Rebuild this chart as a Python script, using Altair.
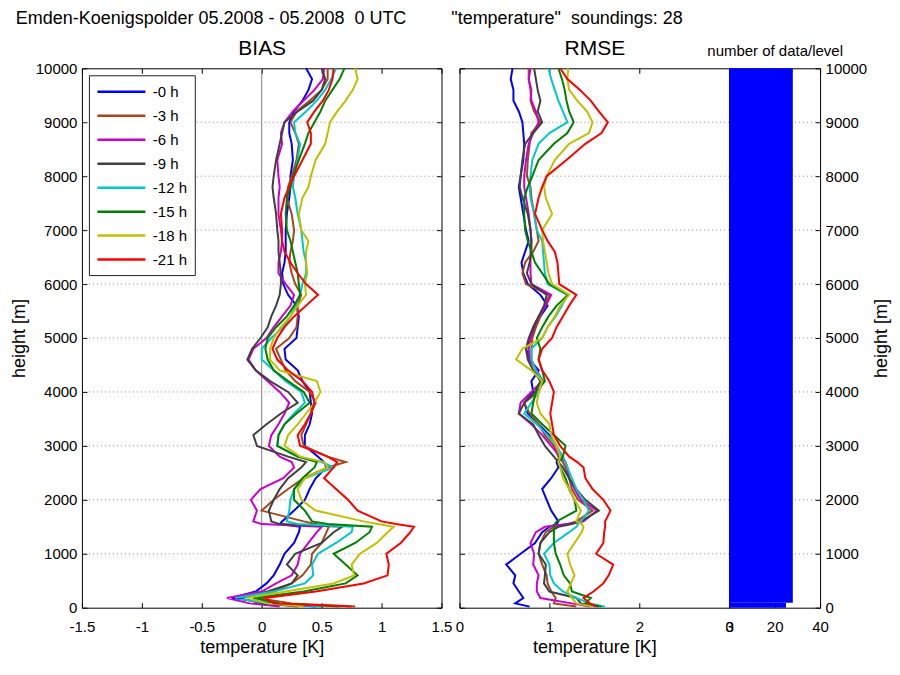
import altair as alt
import pandas as pd

FONT = "Liberation Sans"

HEIGHTS = [20, 80, 180, 300, 450, 600, 800, 1000, 1200, 1400,
           1500, 1550, 1600, 1800, 2000, 2200, 2400, 2600, 2700, 2800,
           3000, 3200, 3400, 3600, 3800, 4000, 4200, 4400, 4600, 4800,
           5000, 5200, 5400, 5600, 5800, 6000, 6200, 6400, 6600, 6800,
           7000, 7300, 7600, 7800, 8000, 8300, 8600, 8800, 9000, 9200,
           9400, 9600, 9800, 10000]

SERIES = ["-0 h", "-3 h", "-6 h", "-9 h", "-12 h", "-15 h", "-18 h", "-21 h"]
COLORS = ["#0000ff", "#a5461e", "#cc00cc", "#404040", "#00c8c8", "#008000", "#c0c000", "#ff0000"]

# ---- BIAS [K] per forecast lead ----
BIAS_0 = [0.45, 0.10, -0.25, -0.05, 0.04, 0.10, 0.15, 0.19, 0.27, 0.31,
          0.32, 0.15, 0.17, 0.27, 0.36, 0.40, 0.45, 0.54, 0.52, 0.47,
          0.36, 0.36, 0.40, 0.42, 0.41, 0.40, 0.34, 0.30, 0.20, 0.19,
          0.29, 0.30, 0.31, 0.29, 0.22, 0.18, 0.17, 0.19, 0.20, 0.20,
          0.20, 0.21, 0.23, 0.24, 0.24, 0.26, 0.25, 0.23, 0.23, 0.27,
          0.34, 0.39, 0.42, 0.37]
BIAS_3 = [0.78, 0.25, -0.04, 0.10, 0.25, 0.34, 0.41, 0.42, 0.50, 0.54,
          0.56, 0.45, 0.35, 0.00, 0.10, 0.22, 0.35, 0.55, 0.70, 0.55,
          0.35, 0.33, 0.37, 0.41, 0.45, 0.40, 0.28, 0.20, 0.16, 0.12,
          0.23, 0.29, 0.30, 0.30, 0.33, 0.28, 0.25, 0.23, 0.24, 0.26,
          0.27, 0.25, 0.21, 0.22, 0.25, 0.29, 0.31, 0.28, 0.24, 0.29,
          0.40, 0.50, 0.55, 0.55]
BIAS_6 = [0.15, -0.10, -0.29, 0.00, 0.12, 0.25, 0.30, 0.32, 0.39, 0.46,
          0.50, 0.00, -0.07, -0.04, -0.09, -0.01, 0.18, 0.27, 0.25, 0.15,
          0.06, 0.08, 0.14, 0.19, 0.23, 0.15, 0.05, -0.05, -0.11, -0.07,
          0.04, 0.10, 0.17, 0.24, 0.27, 0.20, 0.14, 0.14, 0.16, 0.17,
          0.16, 0.14, 0.14, 0.15, 0.14, 0.13, 0.17, 0.16, 0.19, 0.26,
          0.35, 0.44, 0.51, 0.52]
BIAS_9 = [0.30, 0.00, -0.18, 0.05, 0.25, 0.30, 0.21, 0.28, 0.50, 0.60,
          0.67, 0.15, 0.08, 0.06, 0.10, 0.15, 0.22, 0.33, 0.37, 0.22,
          -0.04, -0.07, 0.04, 0.16, 0.30, 0.22, 0.07, -0.05, -0.12, -0.08,
          -0.01, 0.05, 0.08, 0.12, 0.15, 0.16, 0.16, 0.15, 0.14, 0.14,
          0.13, 0.12, 0.10, 0.09, 0.10, 0.12, 0.15, 0.17, 0.19, 0.30,
          0.43, 0.50, 0.53, 0.50]
BIAS_12 = [0.50, 0.05, -0.22, 0.10, 0.36, 0.43, 0.42, 0.47, 0.62, 0.75,
           0.76, 0.30, 0.21, 0.23, 0.24, 0.27, 0.36, 0.60, 0.50, 0.30,
           0.13, 0.14, 0.19, 0.27, 0.36, 0.33, 0.20, 0.10, 0.00, 0.00,
           0.08, 0.18, 0.24, 0.28, 0.32, 0.34, 0.37, 0.37, 0.35, 0.34,
           0.33, 0.30, 0.28, 0.26, 0.27, 0.30, 0.32, 0.28, 0.27, 0.37,
           0.46, 0.53, 0.58, 0.62]
BIAS_15 = [0.65, 0.15, -0.07, 0.35, 0.70, 0.80, 0.70, 0.60, 0.78, 0.90,
           0.92, 0.55, 0.42, 0.36, 0.27, 0.27, 0.34, 0.44, 0.46, 0.30,
           0.13, 0.14, 0.19, 0.29, 0.40, 0.35, 0.22, 0.10, 0.05, 0.03,
           0.05, 0.12, 0.21, 0.27, 0.32, 0.31, 0.30, 0.28, 0.26, 0.24,
           0.21, 0.20, 0.21, 0.24, 0.26, 0.31, 0.36, 0.39, 0.44, 0.49,
           0.53, 0.59, 0.65, 0.69]
BIAS_18 = [0.35, 0.05, -0.12, 0.20, 0.60, 0.77, 0.75, 0.82, 0.96, 1.05,
           1.10, 0.97, 0.85, 0.45, 0.33, 0.30, 0.36, 0.55, 0.52, 0.32,
           0.19, 0.22, 0.30, 0.37, 0.44, 0.49, 0.46, 0.15, 0.07, 0.07,
           0.10, 0.16, 0.24, 0.30, 0.37, 0.36, 0.38, 0.37, 0.37, 0.39,
           0.33, 0.31, 0.34, 0.39, 0.41, 0.45, 0.53, 0.55, 0.57, 0.63,
           0.70, 0.76, 0.80, 0.78]
BIAS_21 = [0.75, 0.10, 0.03, 0.45, 0.85, 1.05, 1.06, 1.04, 1.16, 1.24,
           1.27, 1.12, 1.00, 0.80, 0.72, 0.62, 0.52, 0.60, 0.63, 0.55,
           0.32, 0.30, 0.36, 0.41, 0.44, 0.42, 0.34, 0.22, 0.13, 0.09,
           0.13, 0.19, 0.27, 0.37, 0.47, 0.37, 0.30, 0.24, 0.19, 0.17,
           0.17, 0.16, 0.19, 0.23, 0.27, 0.34, 0.41, 0.41, 0.38, 0.44,
           0.51, 0.56, 0.59, 0.60]

# ---- RMSE [K] per forecast lead ----
RMSE_0 = [0.78, 0.62, 0.71, 0.66, 0.60, 0.62, 0.52, 0.68, 0.84, 0.92,
          1.00, 1.08, 1.10, 1.02, 0.97, 0.92, 1.02, 1.10, 1.08, 1.12,
          1.08, 1.00, 0.88, 0.76, 0.72, 0.82, 0.80, 0.88, 0.78, 0.74,
          0.79, 0.84, 0.90, 0.98, 0.90, 0.76, 0.71, 0.69, 0.73, 0.77,
          0.74, 0.71, 0.68, 0.66, 0.68, 0.71, 0.72, 0.71, 0.70, 0.66,
          0.60, 0.60, 0.57, 0.59]
RMSE_3 = [1.30, 1.05, 1.07, 1.02, 0.98, 0.97, 0.92, 0.88, 0.90, 0.96,
          1.05, 1.20, 1.30, 1.48, 1.32, 1.25, 1.22, 1.18, 1.15, 1.10,
          1.05, 0.95, 0.88, 0.78, 0.72, 0.88, 0.93, 0.85, 0.80, 0.80,
          0.81, 0.85, 0.90, 0.95, 1.00, 0.74, 0.70, 0.73, 0.82, 0.88,
          0.86, 0.83, 0.80, 0.79, 0.75, 0.76, 0.78, 0.80, 0.90, 0.83,
          0.79, 0.80, 0.77, 0.77]
RMSE_6 = [1.45, 1.25, 0.90, 0.86, 0.86, 0.88, 0.82, 0.83, 0.79, 0.85,
          0.95, 1.20, 1.38, 1.53, 1.35, 1.28, 1.22, 1.20, 1.18, 1.12,
          1.02, 0.92, 0.80, 0.66, 0.68, 0.80, 0.92, 0.86, 0.78, 0.77,
          0.79, 0.82, 0.88, 0.96, 1.02, 0.80, 0.79, 0.79, 0.79, 0.80,
          0.79, 0.77, 0.74, 0.72, 0.72, 0.74, 0.77, 0.82, 0.88, 0.85,
          0.80, 0.79, 0.77, 0.79]
RMSE_9 = [1.55, 1.35, 1.30, 1.00, 0.94, 0.95, 0.96, 0.88, 0.90, 1.00,
          1.10, 1.25, 1.35, 1.55, 1.40, 1.30, 1.22, 1.15, 1.10, 1.05,
          0.95, 0.88, 0.82, 0.66, 0.72, 0.84, 0.90, 0.82, 0.76, 0.74,
          0.77, 0.82, 0.88, 0.94, 0.97, 0.80, 0.75, 0.78, 0.80, 0.80,
          0.79, 0.76, 0.70, 0.67, 0.68, 0.70, 0.73, 0.82, 0.92, 0.87,
          0.90, 0.87, 0.85, 0.83]
RMSE_12 = [1.62, 1.45, 1.30, 1.15, 1.05, 1.01, 1.00, 0.94, 1.05, 1.22,
           1.30, 1.32, 1.35, 1.44, 1.38, 1.30, 1.25, 1.20, 1.18, 1.15,
           1.08, 0.98, 0.86, 0.72, 0.80, 0.88, 0.92, 0.85, 0.80, 0.80,
           0.92, 0.98, 1.07, 1.14, 1.20, 0.98, 0.95, 0.94, 0.93, 0.92,
           0.86, 0.83, 0.79, 0.78, 0.79, 0.81, 0.88, 1.00, 1.20, 1.15,
           1.10, 1.06, 1.02, 0.99]
RMSE_15 = [1.58, 1.40, 1.46, 1.25, 1.23, 1.16, 1.12, 1.07, 1.05, 1.05,
           1.05, 1.06, 1.08, 1.30, 1.28, 1.22, 1.18, 1.12, 1.10, 1.15,
           1.18, 1.05, 0.92, 0.80, 0.82, 0.85, 0.95, 0.92, 0.88, 0.90,
           0.86, 0.92, 0.99, 1.08, 1.21, 1.00, 0.92, 0.84, 0.80, 0.76,
           0.73, 0.72, 0.72, 0.76, 0.81, 0.88, 1.05, 1.20, 1.27, 1.22,
           1.19, 1.17, 1.14, 1.10]
RMSE_18 = [1.48, 1.30, 1.25, 1.20, 1.24, 1.28, 1.23, 1.20, 1.28, 1.36,
           1.38, 1.36, 1.30, 1.35, 1.28, 1.22, 1.15, 1.12, 1.10, 1.12,
           1.08, 1.02, 1.00, 0.90, 0.86, 0.88, 0.92, 0.80, 0.63, 0.70,
           0.92, 0.98, 1.06, 1.12, 1.22, 1.03, 0.99, 0.97, 0.95, 0.93,
           0.92, 1.03, 0.96, 0.94, 0.97, 1.06, 1.22, 1.44, 1.48, 1.42,
           1.31, 1.22, 1.20, 1.21]
RMSE_21 = [1.52, 1.45, 1.38, 1.49, 1.60, 1.66, 1.71, 1.52, 1.60, 1.61,
           1.62, 1.62, 1.62, 1.68, 1.60, 1.48, 1.40, 1.38, 1.31, 1.22,
           1.12, 1.05, 1.03, 1.01, 1.03, 1.05, 1.00, 0.92, 0.88, 0.92,
           1.03, 1.08, 1.15, 1.22, 1.30, 1.11, 1.10, 1.09, 1.06, 0.98,
           0.92, 0.84, 0.88, 0.92, 0.97, 1.19, 1.40, 1.58, 1.65, 1.55,
           1.46, 1.34, 1.20, 1.12]

BIAS = [BIAS_0, BIAS_3, BIAS_6, BIAS_9, BIAS_12, BIAS_15, BIAS_18, BIAS_21]
RMSE = [RMSE_0, RMSE_3, RMSE_6, RMSE_9, RMSE_12, RMSE_15, RMSE_18, RMSE_21]

# number of data per level
COUNT_LOW = [0, 90]
COUNT_HIGH = [90, 10000]
COUNTS = [25, 28]

GRID_HEIGHTS = [1000, 2000, 3000, 4000, 5000, 6000, 7000, 8000, 9000]
Y_TICKS = [0, 1000, 2000, 3000, 4000, 5000, 6000, 7000, 8000, 9000, 10000]
BIAS_TICKS = [-1.5, -1, -0.5, 0, 0.5, 1, 1.5]
RMSE_TICKS = [0, 1, 2, 3]
COUNT_TICKS = [0, 20, 40]

TITLE_LEFT = "Emden-Koenigspolder 05.2008 - 05.2008\u00a0\u00a00 UTC"
TITLE_RIGHT = "\"temperature\"\u00a0\u00a0soundings: 28"
TITLE = TITLE_LEFT + "\u00a0" * 9 + TITLE_RIGHT


def to_long(table):
    rows = []
    for name, vals in zip(SERIES, table):
        assert len(vals) == len(HEIGHTS), (name, len(vals))
        for h, v in zip(HEIGHTS, vals):
            rows.append({"series": name, "h": h, "v": v})
    return pd.DataFrame(rows)


bias_df = to_long(BIAS)
rmse_df = to_long(RMSE)
grid_df = pd.DataFrame({"h": GRID_HEIGHTS})
count_df = pd.DataFrame({"lo": COUNT_LOW, "hi": COUNT_HIGH, "n": COUNTS,
                         "zero": [0] * len(COUNTS)})

PH = 540
LABEL = "'' + datum.value"


def ax(orient, values, labels=True, title=None, pad=5, **kw):
    return alt.Axis(orient=orient, values=values, labels=labels, title=title,
                    offset=-5, tickSize=5, ticks=True, domain=False, grid=False,
                    labelExpr=LABEL, labelFlush=False, labelOverlap=False,
                    labelPadding=pad, minExtent=0, **kw)


def top_ax(values, title, size):
    # ticks pointing inwards along the top edge; the panel title sits on this axis
    return ax("top", values, labels=False, title=title, titleFontSize=size,
              titlePadding=9, titleBaseline="bottom")


ys = alt.Scale(domain=[0, 10000], nice=False, zero=False)
xb = alt.Scale(domain=[-1.5, 1.5], nice=False, zero=False)
xr = alt.Scale(domain=[0, 3], nice=False, zero=False)
xn = alt.Scale(domain=[0, 40], nice=False, zero=False)

color = alt.Scale(domain=SERIES, range=COLORS)


def grid_layer():
    return alt.Chart(grid_df).mark_rule(color="#8a8a8a", strokeDash=[1, 3], strokeWidth=1).encode(
        y=alt.Y("h:Q", scale=ys, axis=None))


# ---------------- BIAS ----------------
bias_zero = alt.Chart(pd.DataFrame({"v": [0]})).mark_rule(color="#808080", strokeWidth=1).encode(
    x=alt.X("v:Q", scale=xb, axis=None))
bias_lines = alt.Chart(bias_df).mark_line(strokeWidth=2).encode(
    x=alt.X("v:Q", scale=xb, axis=ax("bottom", BIAS_TICKS, title="temperature [K]", pad=12)),
    y=alt.Y("h:Q", scale=ys, axis=ax("left", Y_TICKS, title="height [m]", pad=5, titlePadding=7)),
    color=alt.Color("series:N", scale=color, legend=alt.Legend(
        title=None, orient="top-left", offset=7, strokeColor="#222222", fillColor="white",
        padding=7, symbolType="M-3,0H3", symbolSize=256, symbolStrokeWidth=2.5,
        symbolOffset=16, labelOffset=22,
        labelFontSize=15, labelFont=FONT, labelColor="black", rowPadding=6)),
    order=alt.Order("h:Q"),
)
bias_frame = alt.Chart(pd.DataFrame({"x": [BIAS_TICKS[3]], "h": [Y_TICKS[5]]})).mark_point(opacity=0).encode(
    x=alt.X("x:Q", scale=xb, axis=top_ax(BIAS_TICKS, "BIAS", 21)),
    y=alt.Y("h:Q", scale=ys, axis=ax("right", Y_TICKS, labels=False)))

bias = alt.layer(grid_layer(), bias_zero, bias_lines, bias_frame).resolve_axis(
    x="independent", y="independent").properties(width=360, height=PH)

# ---------------- RMSE ----------------
rmse_lines = alt.Chart(rmse_df).mark_line(strokeWidth=2).encode(
    x=alt.X("v:Q", scale=xr, axis=ax("bottom", RMSE_TICKS, title="temperature [K]", pad=12)),
    y=alt.Y("h:Q", scale=ys, axis=ax("left", Y_TICKS, labels=False)),
    color=alt.Color("series:N", scale=color, legend=None),
    order=alt.Order("h:Q"),
)
rmse_frame = alt.Chart(pd.DataFrame({"x": [RMSE_TICKS[1]], "h": [Y_TICKS[5]]})).mark_point(opacity=0).encode(
    x=alt.X("x:Q", scale=xr, axis=top_ax(RMSE_TICKS, "RMSE", 21)))

rmse = alt.layer(grid_layer(), rmse_lines, rmse_frame).resolve_axis(
    x="independent", y="independent").properties(width=270, height=PH)

# ---------------- number of data ----------------
count_bars = alt.Chart(count_df).mark_rect(color="#0000ff").encode(
    x=alt.X("zero:Q", scale=xn, axis=ax("bottom", COUNT_TICKS, title=None, pad=12)),
    x2="n:Q",
    y=alt.Y("lo:Q", scale=ys, axis=ax("right", Y_TICKS, title="height [m]", pad=5,
                                     titleAngle=270, titleBaseline="top", titlePadding=6)),
    y2="hi:Q",
)
count_frame = alt.Chart(pd.DataFrame({"x": [COUNT_TICKS[1]], "h": [Y_TICKS[5]]})).mark_point(opacity=0).encode(
    x=alt.X("x:Q", scale=xn, axis=top_ax(COUNT_TICKS, "number of data/level", 15)))

count = alt.layer(grid_layer(), count_bars, count_frame).resolve_axis(
    x="independent", y="independent").properties(width=91, height=PH)

inner = alt.hconcat(rmse, count, spacing=0, bounds="flush").resolve_scale(
    x="independent", color="independent")

chart = alt.hconcat(bias, inner, spacing=18, bounds="flush").resolve_scale(
    x="independent", color="independent").properties(
    title=alt.TitleParams(TITLE, anchor="start", fontSize=18, offset=-9, dx=6, baseline="bottom",
                          font=FONT, fontWeight="normal", color="black"),
    padding={"left": 1, "top": 2, "right": 0, "bottom": 0},
)

chart = chart.configure_view(stroke="black", strokeWidth=1).configure_axis(
    labelFont=FONT, titleFont=FONT, labelFontSize=15, titleFontSize=18,
    labelColor="black", titleColor="black", tickColor="black", titleFontWeight="normal",
).configure_title(font=FONT, fontWeight="normal", color="black")

chart.save("out.html", embed_options={"renderer": "svg", "actions": False})
